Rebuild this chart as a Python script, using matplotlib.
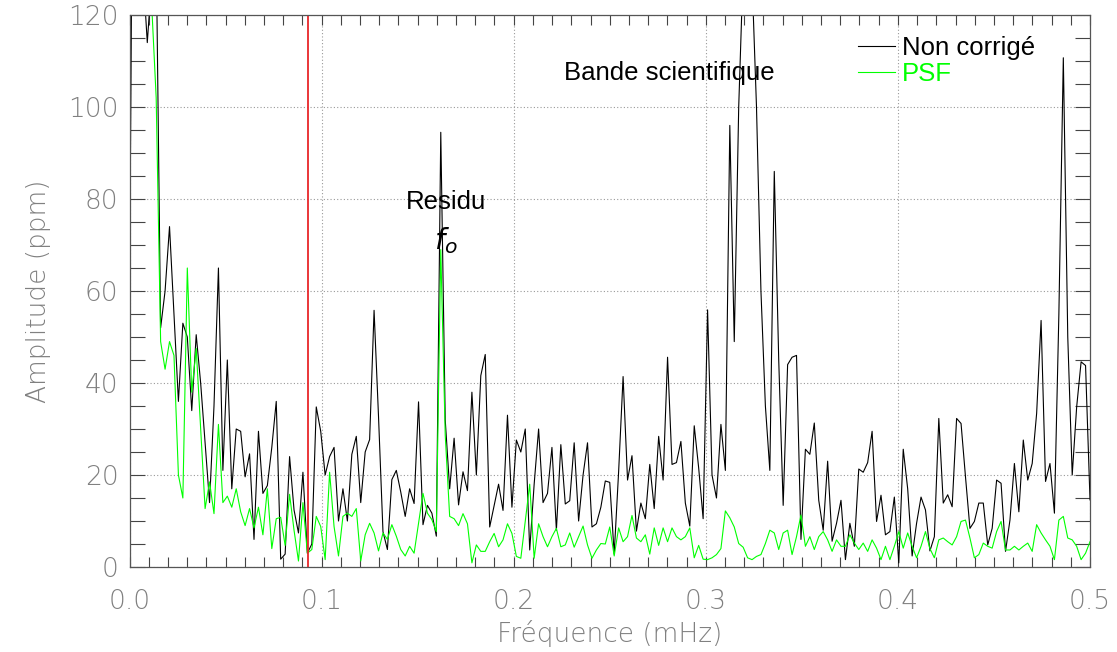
import numpy as np
import matplotlib
matplotlib.use("Agg")
import matplotlib.pyplot as plt
from matplotlib.ticker import MultipleLocator, FormatStrFormatter

# spectre d'amplitude, pas en frequence constant (0.5 mHz / 216)
df = 0.5 / 216

non_corrige = [
    59, 200, 140, 130, 114, 128, 135, 52, 60, 74,
    55, 36, 53, 50, 34, 50.5, 40, 27, 14, 35,
    65, 21, 45, 17, 30, 29.5, 19.6, 24.6, 6, 29.5,
    16, 17.7, 26, 36, 1.7, 2.8, 24, 12.4, 7.4, 20.6,
    3, 5, 34.8, 29.5, 20, 24, 26, 10, 17, 10,
    24.5, 28.4, 14, 25, 27.7, 55.8, 32.7, 7.7, 3.8, 19,
    21, 16.3, 11, 17, 13.8, 35.9, 9.2, 13.4, 11.7, 6.7,
    94.5, 32, 17, 28, 13.5, 20.7, 16.6, 38, 20, 41.6,
    46.2, 8.7, 13.3, 18, 12.3, 33, 13, 27.6, 25, 30,
    3.7, 18, 30, 14, 16, 26, 8, 26.6, 13.7, 14.4,
    27, 10, 20, 27, 8.7, 9.4, 13, 18.7, 18.4, 2.8,
    20.8, 41.4, 18.9, 24.2, 7.8, 13.9, 10.5, 22.3, 12.7, 28.4,
    18.9, 45.6, 22.3, 22.7, 27.3, 13.9, 8.9, 30.7, 21.5, 10.5,
    55.9, 20, 15, 31, 21, 96, 49, 100, 130, 135,
    128, 100, 60, 35, 21, 86, 45, 13.4, 44, 45.6,
    46, 6, 25.6, 24.5, 31.3, 14.5, 8, 23, 5.6, 9.5,
    14.5, 1.6, 9.5, 4.5, 21.3, 20.6, 22.7, 29.5, 9.9, 15.6,
    7, 7.7, 15.2, 0.9, 25.6, 17, 2.4, 9.5, 15.2, 12.4,
    3.5, 6.6, 32.3, 13.9, 15.7, 13.1, 32.3, 31.2, 19.6, 8.4,
    9.9, 13.9, 13.9, 4.8, 8.4, 18.9, 18.2, 3.4, 10.2, 22.5,
    12, 27.6, 18.9, 22.5, 33.4, 53.6, 18.6, 22.5, 11.7, 55,
    110.7, 50, 20, 34.8, 44.6, 43.8, 14.6,
]

psf = [
    160, 150, 140, 130, 125, 122, 102, 49, 43, 49,
    46, 20, 15, 65, 38, 47.5, 30, 12.7, 18.5, 11.6,
    31, 14, 15.4, 13, 17, 12, 9, 12.7, 8.5, 13,
    7, 17, 4, 10.5, 10.8, 4.7, 15.8, 8, 1.3, 14,
    3, 3.8, 11, 8.8, 1.6, 20.6, 8.8, 2.4, 11, 11.7,
    11, 12.7, 1.3, 7, 9.5, 7.4, 3.5, 7.4, 6, 9.2,
    6.7, 3.8, 2.4, 4.5, 3, 9.5, 16, 11.7, 10.3, 7.7,
    69, 28.7, 11, 10.5, 9, 11.6, 9.4, 0.9, 4.8, 3.4,
    3.4, 5.5, 7.3, 4.4, 5.9, 9.4, 7.3, 2.3, 1.9, 10,
    18, 1.9, 9.4, 6.6, 4.4, 6.6, 8.4, 4.4, 4.8, 7.4,
    4.3, 6.6, 8.9, 4.8, 1.9, 3.7, 5.1, 5, 8.7, 2.4,
    8.5, 5.5, 6.6, 11.2, 6.3, 5.5, 7, 2.8, 8.5, 4.7,
    8.5, 5.5, 8.5, 6.6, 5.9, 6.6, 8.5, 2, 4.7, 1.7,
    1.6, 2, 2.7, 4, 12.2, 10.7, 8.7, 5.1, 4.3, 2,
    1.6, 2.3, 2.7, 5.1, 8, 7.4, 3.8, 7.4, 8, 2.7,
    6.6, 11.3, 4.5, 6.6, 3.8, 6.6, 7.7, 5.9, 3.4, 5.9,
    4.5, 4.5, 7, 5.2, 3.8, 5.2, 3.4, 5.9, 4.1, 1.6,
    4.5, 1.6, 4.5, 7.7, 4.1, 7.4, 4.5, 2, 4.5, 7.7,
    4, 2, 5.9, 6.3, 5.5, 4.8, 6.6, 9.9, 10.2, 6.3,
    2, 2.7, 5.2, 4.5, 4.1, 7.7, 9.9, 3.7, 3.7, 4.5,
    3.7, 4.5, 5.2, 3.4, 9.2, 7.4, 5.9, 4.5, 1.6, 10.2,
    11, 6.3, 5.9, 4.5, 1.6, 3, 5.5,
]

f_coupure = 0.093  # trait rouge

freq = np.arange(len(non_corrige)) * df

gris = '#808080'

fig = plt.figure(figsize=(11.17, 6.52), dpi=100)
ax = fig.add_axes([129.5/1117, 85/652, (1090-129.5)/1117, (567-15)/652])

ax.plot(freq, non_corrige, color='black', lw=0.8, label='Non corrigé')
ax.plot(freq, psf, color='#00ff00', lw=0.8, label='PSF')
ax.axvline(f_coupure, color='#e8262a', lw=1.3)

ax.set_xlim(0, 0.5)
ax.set_ylim(0, 120)

ax.xaxis.set_major_locator(MultipleLocator(0.1))
ax.xaxis.set_minor_locator(MultipleLocator(0.01))
ax.xaxis.set_major_formatter(FormatStrFormatter('%.1f'))
ax.yaxis.set_major_locator(MultipleLocator(20))
ax.yaxis.set_minor_locator(MultipleLocator(5))

ax.tick_params(axis='both', which='both', direction='in', top=True, right=True,
               color='#444444', width=0.8)
ax.tick_params(axis='x', which='both', length=7)
ax.tick_params(axis='y', which='both', length=11)
ax.tick_params(axis='both', which='major', labelsize=19, labelcolor=gris)
ax.tick_params(axis='x', which='major', pad=16)
ax.tick_params(axis='y', which='major', pad=8)
for lab in ax.get_xticklabels() + ax.get_yticklabels():
    lab.set_fontweight('light')

for s in ax.spines.values():
    s.set_color('#555555')
    s.set_linewidth(0.9)

ax.grid(True, which='major', linestyle=(0, (1, 2)), color='#999999', lw=0.8)

ax.set_xlabel('Fréquence (mHz)', fontsize=19, color=gris, fontweight='light', labelpad=4)
ax.set_ylabel('Amplitude (ppm)', fontsize=19, color=gris, fontweight='light', labelpad=12)

ax.text(0.281, 107.3, 'Bande scientifique', fontsize=18.5, ha='center', va='center',
        family='Liberation Sans')
ax.text(0.165, 79.3, 'Residu', fontsize=18.5, ha='center', va='center',
        family='Liberation Sans')
ax.text(0.1645, 71.0, r'$\mathit{f}_{\mathit{o}}$', fontsize=21, ha='center', va='center')

leg = ax.legend(loc='upper left', bbox_to_anchor=(0.758, 0.962), frameon=False,
                handlelength=1.45, handletextpad=0.28, labelspacing=0.08, borderaxespad=0,
                borderpad=0, prop={'family': 'Liberation Sans', 'size': 18.5})
leg.get_texts()[1].set_color('#00ff00')

fig.savefig('out.png', dpi=100)
